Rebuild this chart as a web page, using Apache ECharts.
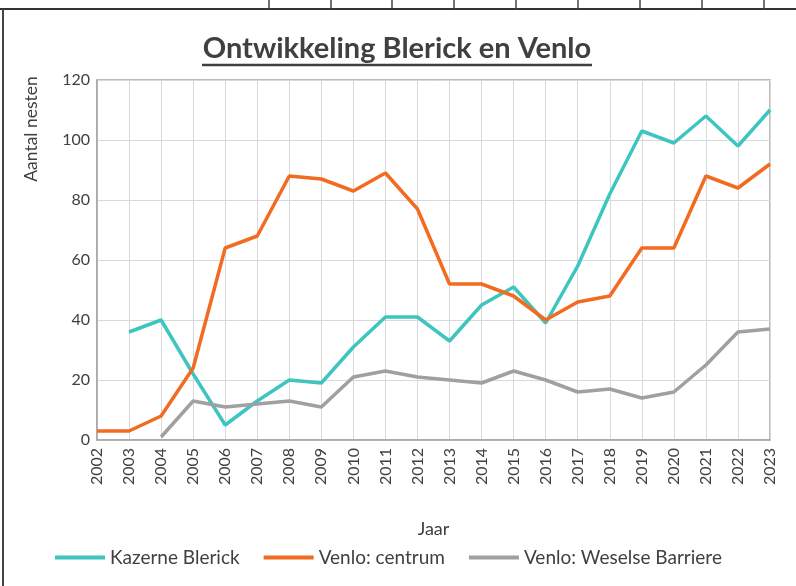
<!DOCTYPE html>
<html>
<head>
<meta charset="utf-8">
<script src="https://cdn.jsdelivr.net/npm/echarts@6/dist/echarts.min.js"></script>
<style>
	html, body { margin: 0; padding: 0; background: #fff; }
	#chart { width: 796px; height: 586px; }
</style>
</head>
<body>
<div id="chart"></div>
<script>
	var jaren = ['2002', '2003', '2004', '2005', '2006', '2007', '2008', '2009', '2010', '2011', '2012',
		'2013', '2014', '2015', '2016', '2017', '2018', '2019', '2020', '2021', '2022', '2023'];
	var kazerneBlerick = [null, 36, 40, 22, 5, 13, 20, 19, 31, 41, 41, 33, 45, 51, 39, 58, 82, 103, 99, 108, 98, 110];
	var venloCentrum = [3, 3, 8, 24, 64, 68, 88, 87, 83, 89, 77, 52, 52, 48, 40, 46, 48, 64, 64, 88, 84, 92];
	var venloWeselse = [null, null, 1, 13, 11, 12, 13, 11, 21, 23, 21, 20, 19, 23, 20, 16, 17, 14, 16, 25, 36, 37];
	var yTicks = [0, 20, 40, 60, 80, 100, 120];

	var font = 'Lato, "Noto Sans", sans-serif';
	var chart = echarts.init(document.getElementById('chart'));

	// rand van de tabel erboven
	var frame = [
		{ type: 'line', shape: { x1: 0, y1: 9, x2: 796, y2: 9 }, style: { stroke: '#333', lineWidth: 2 } },
		{ type: 'line', shape: { x1: 3, y1: 9, x2: 3, y2: 586 }, style: { stroke: '#444', lineWidth: 2 } }
	];
	var ticks = [269, 331, 392, 454, 516, 578, 640, 702, 764];
	for (var i = 0; i < ticks.length; i++) {
		frame.push({ type: 'line', shape: { x1: ticks[i], y1: 0, x2: ticks[i], y2: 9 }, style: { stroke: '#444', lineWidth: 1.5 } });
	}
	// titel met onderstreping
	frame.push({
		type: 'text', x: 397, y: 49,
		style: { text: 'Ontwikkeling Blerick en Venlo', font: 'bold 29px ' + font, fill: '#404040', align: 'center', verticalAlign: 'middle' }
	});
	frame.push({ type: 'line', shape: { x1: 202, y1: 65, x2: 592, y2: 65 }, style: { stroke: '#404040', lineWidth: 2.5 } });
	// y-as titel
	frame.push({
		type: 'text', x: 31, y: 129, rotation: Math.PI / 2,
		style: { text: 'Aantal nesten', font: '17.5px ' + font, fill: '#404040', align: 'center', verticalAlign: 'middle' }
	});

	var option = {
		animation: false,
		color: ['#3ec5c0', '#f26b21', '#a0a0a0'],
		graphic: frame,
		grid: {
			left: 97, right: 26, top: 80, bottom: 146,
			show: true, borderColor: '#a6a6a6', borderWidth: 1.5
		},
		legend: {
			bottom: 14,
			left: 50,
			icon: 'rect',
			itemWidth: 50,
			itemHeight: 4,
			itemGap: 24,
			textStyle: { fontFamily: font, fontSize: 19, color: '#404040' },
			data: ['Kazerne Blerick', 'Venlo: centrum', 'Venlo: Weselse Barriere']
		},
		xAxis: {
			type: 'category',
			data: jaren,
			boundaryGap: false,
			name: 'Jaar',
			nameLocation: 'middle',
			nameGap: 80,
			nameTextStyle: { fontFamily: font, fontSize: 18, color: '#404040' },
			axisLine: { lineStyle: { color: '#a6a6a6', width: 1.5 } },
			axisTick: { show: false },
			axisLabel: { rotate: 90, fontFamily: font, fontSize: 16, color: '#404040', margin: 8, interval: 0 },
			splitLine: { show: true, lineStyle: { color: '#d9d9d9', width: 1 } }
		},
		yAxis: {
			type: 'value',
			min: yTicks[0],
			max: yTicks[yTicks.length - 1],
			interval: 20,
			axisLine: { show: true, lineStyle: { color: '#a6a6a6', width: 1.5 } },
			axisTick: { show: false },
			axisLabel: { fontFamily: font, fontSize: 16, color: '#404040', margin: 7 },
			splitLine: { show: true, lineStyle: { color: '#d9d9d9', width: 1 } }
		},
		series: [{
			name: 'Kazerne Blerick',
			type: 'line',
			data: kazerneBlerick,
			symbol: 'none',
			lineStyle: { width: 3.5 }
		}, {
			name: 'Venlo: centrum',
			type: 'line',
			data: venloCentrum,
			symbol: 'none',
			lineStyle: { width: 3.5 }
		}, {
			name: 'Venlo: Weselse Barriere',
			type: 'line',
			data: venloWeselse,
			symbol: 'none',
			lineStyle: { width: 3.5 }
		}]
	};
	chart.setOption(option);
</script>
</body>
</html>
